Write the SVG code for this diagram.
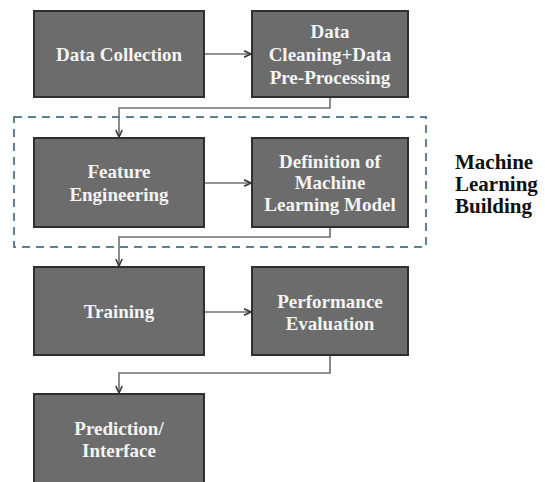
<svg xmlns="http://www.w3.org/2000/svg" width="545" height="482" viewBox="0 0 545 482">
<defs>
<marker id="ah" viewBox="0 0 8 8" refX="7.5" refY="4" markerWidth="8" markerHeight="8" markerUnits="userSpaceOnUse" orient="auto">
<path d="M0.5,0.8 L7.5,4 L0.5,7.2" fill="none" stroke="#3a3a3a" stroke-width="1.6"/>
</marker>
<style>
.box{fill:#6c6c6c;stroke:#2f2f2f;stroke-width:2}
.t{font-family:"Liberation Serif","Times New Roman",serif;font-weight:bold;font-size:19px;fill:#f4f4f4;text-anchor:middle}
.lbl{font-family:"Liberation Serif","Times New Roman",serif;font-weight:bold;font-size:21px;fill:#111}
.c{fill:none;stroke:#6f6f6f;stroke-width:1.6;marker-end:url(#ah)}
.grp{fill:none;stroke:#5f7f94;stroke-width:2;stroke-dasharray:8 6}
</style>
</defs>
<rect width="545" height="482" fill="#ffffff"/>
<g id="group-ml">
<rect class="grp" x="14" y="117" width="412" height="130"/>
<text class="lbl" x="455" y="169">Machine</text>
<text class="lbl" x="455" y="191">Learning</text>
<text class="lbl" x="455" y="213">Building</text>
</g>
<g id="connectors">
<path class="c" d="M204,54 L251,54"/>
<path class="c" d="M330,97 L330,108 L119,108 L119,137"/>
<path class="c" d="M204,183 L251,183"/>
<path class="c" d="M330,227 L330,237 L119,237 L119,266"/>
<path class="c" d="M204,312 L251,312"/>
<path class="c" d="M330,355 L330,373 L119,373 L119,393"/>
</g>
<g id="data-collection">
<rect class="box" x="34" y="11" width="170" height="86"/>
<text class="t" x="119" y="61">Data Collection</text>
</g>
<g id="data-cleaning">
<rect class="box" x="252" y="11" width="156" height="86"/>
<text class="t" x="330" y="38">Data</text>
<text class="t" x="330" y="61">Cleaning+Data</text>
<text class="t" x="330" y="84">Pre-Processing</text>
</g>
<g id="feature-engineering">
<rect class="box" x="34" y="138" width="170" height="89"/>
<text class="t" x="119" y="178">Feature</text>
<text class="t" x="119" y="201">Engineering</text>
</g>
<g id="model-definition">
<rect class="box" x="252" y="138" width="156" height="89"/>
<text class="t" x="330" y="168">Definition of</text>
<text class="t" x="330" y="189">Machine</text>
<text class="t" x="330" y="211">Learning Model</text>
</g>
<g id="training">
<rect class="box" x="34" y="267" width="170" height="88"/>
<text class="t" x="119" y="318">Training</text>
</g>
<g id="performance-evaluation">
<rect class="box" x="252" y="267" width="156" height="88"/>
<text class="t" x="330" y="308">Performance</text>
<text class="t" x="330" y="330">Evaluation</text>
</g>
<g id="prediction">
<rect class="box" x="34" y="394" width="170" height="92"/>
<text class="t" x="119" y="435">Prediction/</text>
<text class="t" x="119" y="457">Interface</text>
</g>
</svg>
